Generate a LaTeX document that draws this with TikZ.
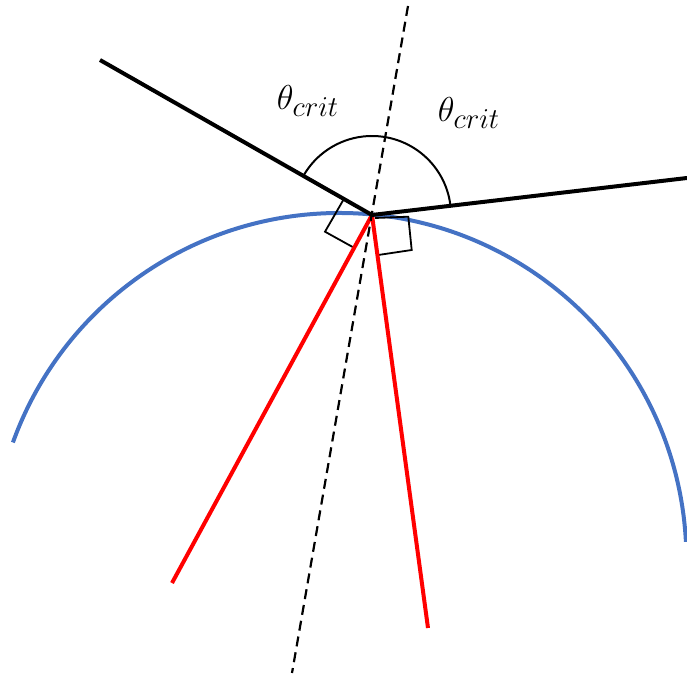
\documentclass[tikz,border=0pt]{standalone}
\usepackage{amsmath}
\usepackage{xcolor}
\usepackage{tikz}
\definecolor{surfblue}{RGB}{68,114,196}
\definecolor{rayred}{RGB}{255,0,0}

\begin{document}
\begin{tikzpicture}[x=0.5pt, y=0.5pt,
		beam/.style={draw=black, line width=2pt},
		refr/.style={draw=rayred, line width=2pt},
		surface/.style={draw=surfblue, line width=2pt},
		normalline/.style={draw=black, line width=1.1pt, dash pattern=on 5pt off 3pt},
		thinline/.style={draw=black, line width=0.9pt},
		anglelabel/.style={font=\fontsize{19}{21}\selectfont, inner sep=0pt}]
		\useasboundingbox (0,0) rectangle (687,675);
		% points
		\coordinate (hit) at (372,460);
		\coordinate (ctr) at (339.4,115);
		\coordinate (inL) at (100,615);
		\coordinate (outR) at (687,497);
		\coordinate (redL) at (172,92);
		\coordinate (redR) at (428,47);
		\coordinate (nTop) at (408,669);
		\coordinate (nBot) at (292,2);
		% surface
		\draw[surface] (ctr) ++(3:347) arc[start angle=3, end angle=160.2, radius=347];
		% right angle boxes
		\draw[thinline] (343.3,475) -- (325,443.3) -- (355,426.7);
		\draw[thinline] (375,457) -- (408.3,458.3) -- (411.7,425) -- (378.3,420);
		% refracted rays
		\draw[refr] (hit) -- (redL);
		\draw[refr] (hit) -- (redR);
		% incoming / outgoing
		\draw[beam] (inL) -- (hit);
		\draw[beam] (hit) -- (outR);
		\draw[normalline] (nTop) -- (nBot);
		\draw[thinline, line width=1pt] (hit) ++(6.7:79) arc[start angle=6.7, end angle=150.3, radius=79];
		\node[anglelabel] (critL) at (308,574) {$\theta_{crit}$};
		\node[anglelabel] (critR) at (469,562) {$\theta_{crit}$};
	\end{tikzpicture}
\end{document}
